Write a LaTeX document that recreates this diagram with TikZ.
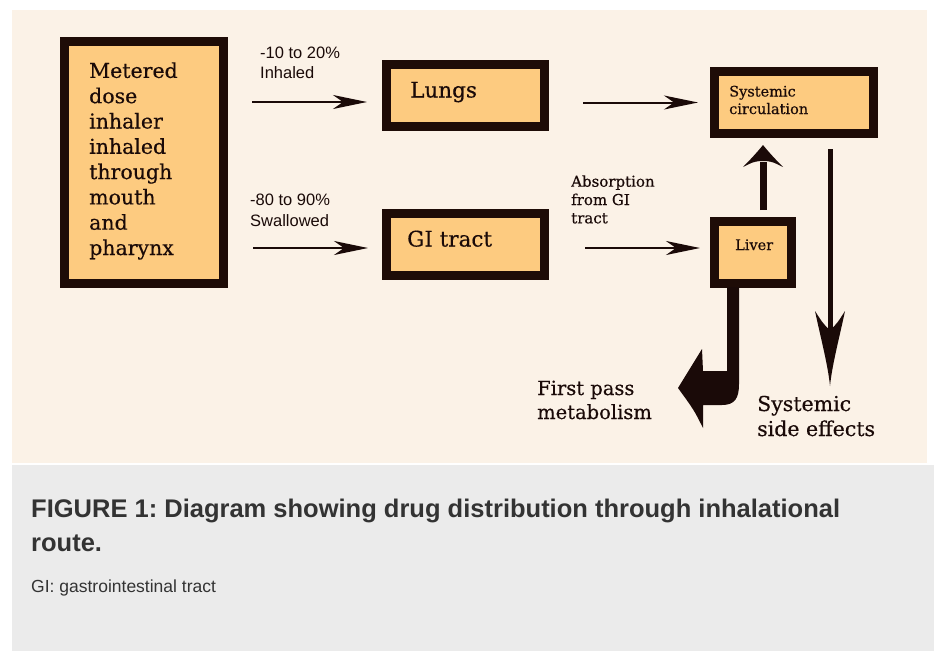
\documentclass[tikz,border=0pt]{standalone}
\usepackage{fontspec}
\newfontfamily\dserif[FakeBold=0.4]{DejaVu Serif}
\newfontfamily\lsans{Liberation Sans}
\frenchspacing
\usetikzlibrary{arrows.meta,calc}
\definecolor{cream}{HTML}{FBF2E7}
\definecolor{capgray}{HTML}{EBEBEB}
\definecolor{boxfill}{HTML}{FDCB80}
\definecolor{boxline}{HTML}{1E0C07}
\definecolor{ink}{HTML}{1A0A08}
\definecolor{captext}{HTML}{333333}
\tikzset{
  box/.style={rectangle, draw=boxline, line width=9pt, fill=boxfill, inner sep=0pt},
  serifbig/.style={font=\dserif\fontsize{20.5}{25.3}\selectfont, align=left, inner sep=0pt, anchor=base west, text=ink},
  serifmid/.style={font=\dserif\fontsize{21.5}{25}\selectfont, align=left, inner sep=0pt, anchor=base west, text=ink},
  serifsmall/.style={font=\dserif\fontsize{14.5}{17.5}\selectfont, align=left, inner sep=0pt, anchor=base west, text=ink},
  serifabs/.style={font=\dserif\fontsize{15}{18.3}\selectfont, align=left, inner sep=0pt, anchor=base west, text=ink},
  sanslabel/.style={font=\lsans\fontsize{16.5}{19.5}\selectfont, align=left, inner sep=0pt, anchor=base west, text=ink},
  thinarrow/.style={draw=ink, line width=2pt, -{Stealth[length=34pt,width=14pt,inset=10pt]}},
}
\begin{document}
\begin{tikzpicture}[x=1pt,y=-1pt]
\useasboundingbox (0,0) rectangle (934,651);
\fill[white] (0,0) rectangle (934,651);
\fill[cream] (12,10) rectangle (927,463);
\fill[capgray] (12,465) rectangle (934,651);

% boxes
\node[box, minimum width=159pt, minimum height=242pt] (meter) at (144,162.5) {};
\node[box, minimum width=158pt, minimum height=62pt] (lungs) at (465.5,95.5) {};
\node[box, minimum width=158pt, minimum height=62pt] (gi) at (465.5,244.5) {};
\node[box, minimum width=159pt, minimum height=62pt] (sys) at (794,102.5) {};
\node[box, minimum width=77pt, minimum height=62pt] (liver) at (753,252.5) {};

% box texts (base anchor = last line baseline)
\node[serifbig] (metertxt) at (89,255) {Metered\\dose\\inhaler\\inhaled\\through\\mouth\\and\\pharynx};
\node[serifmid] (lungstxt) at (410,97.5) {Lungs};
\node[serifmid] (gitxt) at (407,246.5) {GI tract};
\node[serifsmall] (systxt) at (729,114) {Systemic\\circulation};
\node[serifsmall] (livertxt) at (735,250) {Liver};

% labels
\node[sanslabel] (inh) at (260,78.3) {-10 to 20\%\\Inhaled};
\node[sanslabel, font=\lsans\fontsize{16.5}{21}\selectfont] (swal) at (250,226.7) {-80 to 90\%\\Swallowed};
\node[serifabs] (absorb) at (571,223.3) {Absorption\\from GI\\tract};
\node[serifbig, font=\dserif\fontsize{19.5}{24}\selectfont] (fpm) at (537,419) {First pass\\metabolism};
\node[serifbig, font=\dserif\fontsize{20.5}{25}\selectfont] (sse) at (757,436) {Systemic\\side effects};

% thin arrows
\draw[thinarrow, shorten <=24pt, shorten >=15pt] ([yshift=-6.5pt]meter.east |- lungs.west) -- ([yshift=-6.5pt]lungs.west);
\draw[thinarrow, shorten <=25pt, shorten >=14pt] ([yshift=-3.5pt]meter.east |- gi.west) -- ([yshift=-3.5pt]gi.west);
\draw[thinarrow, shorten <=34pt, shorten >=12pt] (sys.west -| lungs.east) -- (sys.west);
\draw[thinarrow, shorten <=36pt, shorten >=10pt] ([yshift=-3.5pt]gi.east) -- ([yshift=-3.5pt]gi.east -| liver.west);

% thick up arrow liver -> systemic
\coordinate (upbase) at ($(liver.north)+(10,-7)$);
\coordinate (uptip) at ($(sys.south)+(-31,7)$);
\draw[ink, line width=7pt] (upbase) -- ($(uptip)+(0,17)$);
\fill[ink] ($(uptip)+(-3,16)$) .. controls ($(uptip)+(-10,17)$) .. ($(uptip)+(-20,22)$)
  .. controls ($(uptip)+(-11,13)$) and ($(uptip)+(-4,5)$) .. (uptip)
  .. controls ($(uptip)+(4,5)$) and ($(uptip)+(11,13)$) .. ($(uptip)+(20,22)$)
  .. controls ($(uptip)+(10,17)$) .. ($(uptip)+(3,16)$) -- cycle;

% long down arrow systemic -> side effects
\coordinate (dnbase) at ($(sys.south east)+(-48,11)$);
\coordinate (dntip) at (830,386);
\draw[ink, line width=5pt] (dnbase) -- ($(dntip)+(0,-57)$);
\fill[ink] ($(dntip)+(-2.5,-58)$) .. controls ($(dntip)+(-8,-64)$) .. ($(dntip)+(-15,-75)$)
  .. controls ($(dntip)+(-10,-51)$) and ($(dntip)+(-2,-21)$) .. (dntip)
  .. controls ($(dntip)+(2,-21)$) and ($(dntip)+(10,-51)$) .. ($(dntip)+(15,-75)$)
  .. controls ($(dntip)+(8,-64)$) .. ($(dntip)+(2.5,-58)$) -- cycle;

% bent arrow liver -> first pass metabolism
\coordinate (bentstart) at ($(liver.south)+(-20,-1)$);
\fill[ink] ($(bentstart)+(-6,0)$) -- (727,371) -- (703,371) -- (702,349)
  .. controls (694,362) .. (678,388)
  .. controls (694,410) .. (703,428)
  -- (703,405) -- (722,405) .. controls (735,405) and (739,398) .. (739,384)
  -- ($(bentstart)+(6,0)$) -- cycle;

% caption
\node[font=\lsans\bfseries\fontsize{25.5}{34}\selectfont, text=captext, align=left, inner sep=0pt, anchor=base west] (cap) at (31,551) {FIGURE 1: Diagram showing drug distribution through inhalational\\route.};
\node[font=\lsans\fontsize{17.5}{19}\selectfont, text=captext, inner sep=0pt, anchor=base west] (capnote) at (31,592.7) {GI: gastrointestinal tract};
\end{tikzpicture}
\end{document}
